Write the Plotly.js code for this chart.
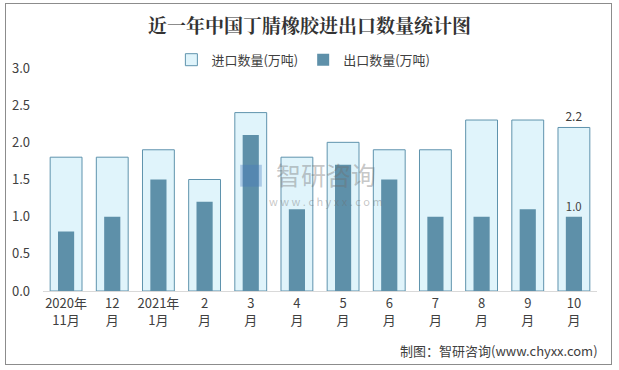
<!DOCTYPE html>
<html>
<head>
<meta charset="utf-8">
<script src="https://cdn.plot.ly/plotly-3.0.1.min.js"></script>
<style>
html,body{margin:0;padding:0;background:#fff;}
#wrap{position:relative;width:619px;height:370px;}
#chart{width:619px;height:370px;}
#frame{position:absolute;left:5px;top:3px;width:605px;height:360px;border:1px solid #8c8c8c;pointer-events:none;}
</style>
</head>
<body>
<div id="wrap"><div id="chart"></div><div id="frame"></div></div>
<script>
const categories = ["2020年<br>11月","12<br>月","2021年<br>1月","2<br>月","3<br>月","4<br>月","5<br>月","6<br>月","7<br>月","8<br>月","9<br>月","10<br>月"];
const importVals = [1.8,1.8,1.9,1.5,2.4,1.8,2.0,1.9,1.9,2.3,2.3,2.2];
const exportVals = [0.8,1.0,1.5,1.2,2.1,1.1,1.7,1.5,1.0,1.0,1.1,1.0];
const importName = "进口数量(万吨)";
const exportName = "出口数量(万吨)";

const lastLabel = arr => arr.map((v,i)=> i===arr.length-1 ? v.toFixed(1) : null);

const font = "'Microsoft YaHei','Noto Sans CJK SC','Noto Sans',sans-serif";

const traces = [
  {type:'bar', name:importName, x:categories, y:importVals, width:0.69,
   marker:{color:'#e0f4fb', line:{color:'#5f93ad', width:1}},
   text:lastLabel(importVals), textposition:'outside', cliponaxis:false,
   textfont:{size:12,color:'#404040',family:font}, hoverinfo:'y'},
  {type:'bar', name:exportName, x:categories, y:exportVals, width:0.35,
   marker:{color:'#5e90a9', line:{width:0}},
   text:lastLabel(exportVals), textposition:'outside', cliponaxis:false,
   textfont:{size:12,color:'#404040',family:font}, hoverinfo:'y'}
];

const layout = {
  width:619, height:370,
  margin:{l:43, r:22, t:68, b:79},
  paper_bgcolor:'#fff', plot_bgcolor:'#fff',
  barmode:'overlay',
  font:{family:font, size:12, color:'#404040'},
  title:{text:'<b>近一年中国丁腈橡胶进出口数量统计图</b>', x:0.5, xanchor:'center', y:0.93, yanchor:'middle',
         font:{size:19, color:'#333', family:"'Noto Serif CJK SC','Noto Sans CJK SC',serif"}},
  showlegend:true,
  legend:{orientation:'h', x:0.47, xanchor:'center', y:1.037, yanchor:'middle',
          font:{size:13, color:'#404040'}, itemwidth:30, traceorder:'normal', bgcolor:'rgba(0,0,0,0)'},
  xaxis:{type:'category', showline:true, linecolor:'#d9d9d9', linewidth:1, showgrid:false,
         ticks:'', tickfont:{size:13, color:'#404040'}, fixedrange:true},
  yaxis:{range:[0,3], tick0:0, dtick:0.5, tickformat:'.1f', showgrid:false, showline:false,
         zeroline:false, ticks:'', ticklabelstandoff:12, tickfont:{size:13, color:'#404040'}, fixedrange:true},
  shapes:[
    {type:'rect', xref:'paper', yref:'paper', x0:0.356, x1:0.395, y0:0.468, y1:0.566,
     fillcolor:'rgba(70,120,190,0.35)', line:{width:0}, layer:'above'}
  ],
  annotations:[
    {text:'制图：智研咨询(www.chyxx.com)', xref:'paper', yref:'paper', x:1.005, y:-0.265,
     xanchor:'right', yanchor:'middle', showarrow:false, font:{size:13, color:'#404040'}},
    {text:'智研咨询', xref:'paper', yref:'paper', x:0.51, y:0.525, xanchor:'center', yanchor:'middle',
     showarrow:false, font:{size:25, color:'rgba(110,110,110,0.4)'}},
    {text:'w w w . c h y x x . c o m', xref:'paper', yref:'paper', x:0.51, y:0.405, xanchor:'center', yanchor:'middle',
     showarrow:false, font:{size:11, color:'rgba(110,110,110,0.4)'}}
  ]
};

Plotly.newPlot('chart', traces, layout, {displayModeBar:false, staticPlot:true});
</script>
</body>
</html>
